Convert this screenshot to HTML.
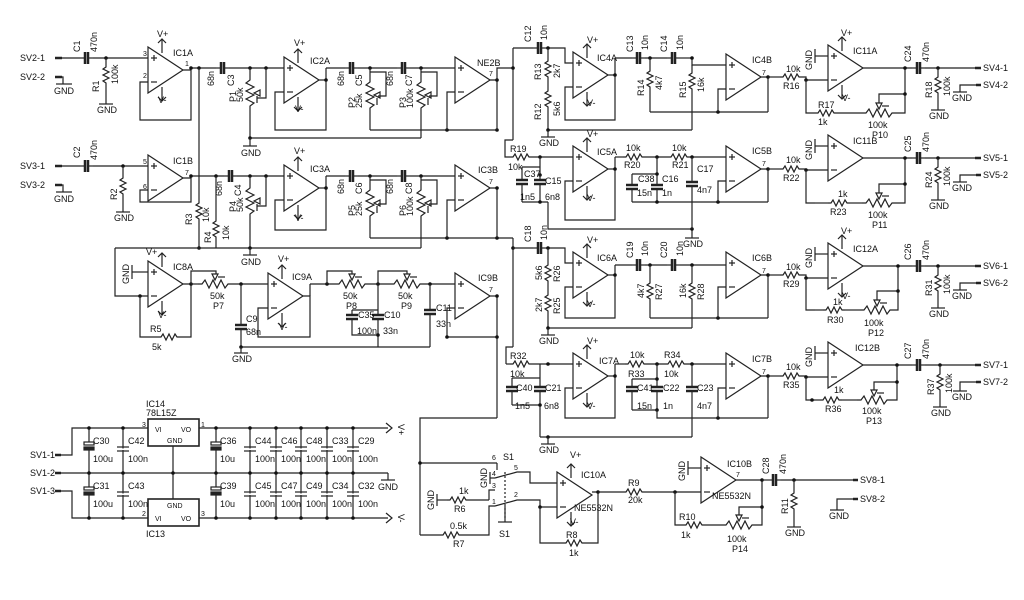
<!DOCTYPE html>
<html><head><meta charset="utf-8"><style>
html,body{margin:0;padding:0;background:#fff}
svg{display:block}
svg *{stroke:#222;stroke-width:1.2;fill:none}
svg text{fill:#111;stroke:none;font-family:"Liberation Sans",sans-serif;font-size:9px}
svg circle{fill:#111;stroke:none}
.t{stroke-width:2.5}
</style></head><body>
<svg width="1024" height="600" viewBox="0 0 1024 600" xmlns="http://www.w3.org/2000/svg">
<defs>
<g id="oa"><polygon points="0,-23 0,23 35,0"/><line x1="3" y1="-12" x2="9" y2="-12"/><line x1="6" y1="-15" x2="6" y2="-9"/><line x1="3" y1="12" x2="9" y2="12"/></g>
<g id="oap"><use href="#oa"/><line x1="14" y1="-17" x2="14" y2="-31"/><polyline points="10,-27 14,-31 18,-27"/><line x1="14" y1="17" x2="14" y2="31"/><polyline points="10,27 14,31 18,27"/></g>
<polyline id="rh" points="0,0 3,0 5,-3 8,3 11,-3 14,3 17,-3 19,0 22,0"/>
<polyline id="rv" points="0,0 0,3 -3,5 3,8 -3,11 3,14 -3,17 0,19 0,22"/>
<g id="ch"><line x1="0" y1="0" x2="5" y2="0"/><line x1="5" y1="-6" x2="5" y2="6" class="t"/><line x1="8" y1="-6" x2="8" y2="6" class="t"/><line x1="8" y1="0" x2="13" y2="0"/></g>
<g id="cv"><line x1="0" y1="0" x2="0" y2="5"/><line x1="-6" y1="5" x2="6" y2="5" class="t"/><line x1="-6" y1="9" x2="6" y2="9" class="t"/><line x1="0" y1="9" x2="0" y2="14"/></g>
<g id="ph"><polyline points="0,0 4,0 7,-4 11,4 15,-4 19,4 23,-4 27,4 30,0 34,0"/><polygon points="14,-10 20,-10 17,-4"/><line x1="20" y1="-7" x2="27" y2="-7"/></g>
<g id="pv"><polyline points="0,0 0,4 -4,7 4,11 -4,15 4,19 -4,23 4,27 0,30 0,34"/><polygon points="10,14 10,20 4,17"/><line x1="7" y1="20" x2="7" y2="27"/></g>
<line id="g" x1="-7" y1="0" x2="7" y2="0"/>
<g id="cp"><line x1="0" y1="0" x2="0" y2="5"/><rect x="-5" y="5" width="10" height="3"/><rect x="-5" y="10" width="10" height="3" style="fill:#222"/><line x1="0" y1="13" x2="0" y2="18"/></g>
</defs>

<!-- ============ ROW 1 LEFT ============ -->
<text x="20" y="61">SV2-1</text><line x1="55" y1="58" x2="62" y2="58" class="t"/>
<line x1="62" y1="58" x2="80" y2="58"/><use href="#ch" x="80" y="58"/><line x1="93" y1="58" x2="148" y2="58"/>
<text transform="translate(80,52) rotate(-90)">C1</text><text transform="translate(97,52) rotate(-90)">470n</text>
<circle cx="106" cy="58" r="1.8"/><line x1="106" y1="58" x2="106" y2="64"/><use href="#rv" x="106" y="64"/><line x1="106" y1="86" x2="106" y2="104"/><use href="#g" x="106" y="104"/><text x="97" y="113">GND</text>
<text transform="translate(99,92) rotate(-90)">R1</text><text transform="translate(118,84) rotate(-90)">100k</text>
<text x="20" y="80">SV2-2</text><line x1="55" y1="77" x2="62" y2="77" class="t"/><polyline points="62,77 63,77 63,84"/><line x1="56" y1="84" x2="72" y2="84"/><text x="54" y="94">GND</text>
<use href="#oap" x="148" y="70"/><text x="173" y="56">IC1A</text><text x="157" y="37">V+</text><text x="158" y="103">V-</text>
<text x="143" y="56" style="font-size:7px">3</text><text x="143" y="78" style="font-size:7px">2</text><text x="185" y="66" style="font-size:7px">1</text>
<polyline points="148,82 140,82 140,120 191,120 191,70 183,70"/>
<line x1="191" y1="68" x2="216" y2="68"/><use href="#ch" x="216" y="68"/><line x1="229" y1="68" x2="284" y2="68"/>
<circle cx="191" cy="68" r="1.8"/><circle cx="199" cy="68" r="1.8"/><circle cx="250" cy="68" r="1.8"/><circle cx="266" cy="68" r="1.8"/>
<text transform="translate(214,86) rotate(-90)">68n</text><text transform="translate(234,86) rotate(-90)">C3</text>
<line x1="250" y1="68" x2="250" y2="76"/><use href="#pv" x="250" y="76"/><polyline points="266,68 266,98 257,98"/><line x1="250" y1="110" x2="250" y2="138"/>
<text transform="translate(236,102) rotate(-90)">P1</text><text transform="translate(243,102) rotate(-90)">50k</text>
<line x1="250" y1="138" x2="421" y2="138"/><circle cx="250" cy="138" r="1.8"/><line x1="250" y1="138" x2="250" y2="146"/><use href="#g" x="250" y="146"/><text x="241" y="156">GND</text>
<use href="#oap" x="284" y="80"/><text x="310" y="64">IC2A</text><text x="294" y="46">V+</text><text x="295" y="112">V-</text>
<polyline points="284,92 275,92 275,130 326,130 326,68"/><line x1="319" y1="80" x2="326" y2="80"/><circle cx="326" cy="80" r="1.8"/>
<line x1="326" y1="68" x2="345" y2="68"/><use href="#ch" x="345" y="68"/><line x1="358" y1="68" x2="397" y2="68"/><use href="#ch" x="397" y="68"/><line x1="410" y1="68" x2="455" y2="68"/>
<circle cx="370" cy="68" r="1.8"/><circle cx="421" cy="68" r="1.8"/>
<text transform="translate(344,86) rotate(-90)">68n</text><text transform="translate(362,86) rotate(-90)">C5</text>
<text transform="translate(393,86) rotate(-90)">68n</text><text transform="translate(412,86) rotate(-90)">C7</text>
<line x1="370" y1="68" x2="370" y2="78"/><use href="#pv" x="370" y="78"/><polyline points="370,72 386,72 386,96 378,96"/><line x1="370" y1="112" x2="370" y2="130"/>
<text transform="translate(355,108) rotate(-90)">P2</text><text transform="translate(362,108) rotate(-90)">25k</text>
<line x1="421" y1="68" x2="421" y2="78"/><use href="#pv" x="421" y="78"/><polyline points="421,72 437,72 437,96 429,96"/><line x1="421" y1="112" x2="421" y2="138"/>
<text transform="translate(406,108) rotate(-90)">P3</text><text transform="translate(413,108) rotate(-90)">100k</text>
<line x1="370" y1="130" x2="497" y2="130"/><circle cx="447" cy="130" r="1.8"/><circle cx="497" cy="130" r="1.8"/>
<use href="#oa" x="455" y="80"/><text x="477" y="66">NE2B</text><text x="489" y="76" style="font-size:7px">7</text>
<polyline points="455,92 447,92 447,130"/><polyline points="490,80 497,80 497,130"/><circle cx="497" cy="80" r="1.8"/>
<polyline points="497,80 497,68 513,68"/>
<line x1="513" y1="48" x2="513" y2="140"/><circle cx="513" cy="68" r="1.8"/><polyline points="513,140 505,140 505,157 510,157"/>

<!-- ============ ROW 2 LEFT ============ -->
<text x="20" y="169">SV3-1</text><line x1="55" y1="166" x2="62" y2="166" class="t"/>
<line x1="62" y1="166" x2="80" y2="166"/><use href="#ch" x="80" y="166"/><line x1="93" y1="166" x2="148" y2="166"/>
<text transform="translate(80,158) rotate(-90)">C2</text><text transform="translate(97,160) rotate(-90)">470n</text>
<circle cx="123" cy="166" r="1.8"/><line x1="123" y1="166" x2="123" y2="175"/><use href="#rv" x="123" y="175"/><line x1="123" y1="197" x2="123" y2="212"/><use href="#g" x="123" y="212"/><text x="114" y="221">GND</text>
<text transform="translate(117,200) rotate(-90)">R2</text>
<text x="20" y="188">SV3-2</text><line x1="55" y1="185" x2="62" y2="185" class="t"/><polyline points="62,185 63,185 63,192"/><line x1="56" y1="192" x2="72" y2="192"/><text x="54" y="202">GND</text>
<use href="#oa" x="148" y="178"/><text x="173" y="164">IC1B</text><text x="143" y="164" style="font-size:7px">5</text><text x="143" y="189" style="font-size:7px">6</text><text x="185" y="175" style="font-size:7px">7</text>
<polyline points="148,190 140,190 140,202 191,202 191,178 183,178"/>
<line x1="191" y1="176" x2="224" y2="176"/><use href="#ch" x="224" y="176"/><line x1="237" y1="176" x2="284" y2="176"/>
<circle cx="191" cy="176" r="1.8"/><circle cx="216" cy="176" r="1.8"/><circle cx="250" cy="176" r="1.8"/><circle cx="266" cy="176" r="1.8"/>
<text transform="translate(222,196) rotate(-90)">68n</text><text transform="translate(241,196) rotate(-90)">C4</text>
<line x1="199" y1="68" x2="199" y2="200"/><use href="#rv" x="199" y="200"/><line x1="199" y1="222" x2="199" y2="248"/><circle cx="199" cy="248" r="1.8"/>
<text transform="translate(192,225) rotate(-90)">R3</text><text transform="translate(209,222) rotate(-90)">10k</text>
<line x1="216" y1="176" x2="216" y2="218"/><use href="#rv" x="216" y="218"/><line x1="216" y1="240" x2="216" y2="248"/>
<text transform="translate(211,243) rotate(-90)">R4</text><text transform="translate(229,240) rotate(-90)">10k</text>
<line x1="250" y1="176" x2="250" y2="184"/><use href="#pv" x="250" y="184"/><polyline points="266,176 266,206 257,206"/><line x1="250" y1="218" x2="250" y2="248"/>
<text transform="translate(236,212) rotate(-90)">P4</text><text transform="translate(243,212) rotate(-90)">50k</text>
<line x1="115" y1="248" x2="421" y2="248"/><circle cx="250" cy="248" r="1.8"/><line x1="250" y1="248" x2="250" y2="255"/><use href="#g" x="250" y="255"/><text x="241" y="265">GND</text>
<use href="#oap" x="284" y="188"/><text x="310" y="172">IC3A</text><text x="294" y="154">V+</text><text x="295" y="221">V-</text>
<polyline points="284,200 275,200 275,230 326,230 326,176"/><line x1="319" y1="188" x2="326" y2="188"/><circle cx="326" cy="188" r="1.8"/>
<line x1="326" y1="176" x2="345" y2="176"/><use href="#ch" x="345" y="176"/><line x1="358" y1="176" x2="397" y2="176"/><use href="#ch" x="397" y="176"/><line x1="410" y1="176" x2="455" y2="176"/>
<circle cx="370" cy="176" r="1.8"/><circle cx="421" cy="176" r="1.8"/>
<text transform="translate(344,194) rotate(-90)">68n</text><text transform="translate(362,194) rotate(-90)">C6</text>
<text transform="translate(393,194) rotate(-90)">68n</text><text transform="translate(412,194) rotate(-90)">C8</text>
<line x1="370" y1="176" x2="370" y2="186"/><use href="#pv" x="370" y="186"/><polyline points="370,180 386,180 386,204 378,204"/><line x1="370" y1="220" x2="370" y2="238"/>
<text transform="translate(355,216) rotate(-90)">P5</text><text transform="translate(362,216) rotate(-90)">25k</text>
<line x1="421" y1="176" x2="421" y2="186"/><use href="#pv" x="421" y="186"/><polyline points="421,180 437,180 437,204 429,204"/><line x1="421" y1="220" x2="421" y2="248"/>
<text transform="translate(406,216) rotate(-90)">P6</text><text transform="translate(413,216) rotate(-90)">100k</text>
<line x1="370" y1="238" x2="513" y2="238"/><circle cx="447" cy="238" r="1.8"/><circle cx="497" cy="238" r="1.8"/>
<use href="#oa" x="455" y="188"/><text x="478" y="173">IC3B</text><text x="489" y="184" style="font-size:7px">7</text>
<polyline points="455,200 447,200 447,238"/><polyline points="490,188 497,188 497,238"/><circle cx="497" cy="188" r="1.8"/>
<line x1="513" y1="238" x2="513" y2="347"/><circle cx="513" cy="248" r="1.8"/><polyline points="513,347 506,347 506,364"/>

<!-- ============ ROW 3 LEFT ============ -->
<polyline points="115,248 115,296 148,296"/><circle cx="140" cy="296" r="1.8"/>
<use href="#oap" x="148" y="284"/><text x="173" y="270">IC8A</text><text x="146" y="255">V+</text><text x="158" y="318">V-</text>
<line x1="148" y1="272" x2="132" y2="272"/><line x1="132" y1="265" x2="132" y2="279"/><text transform="translate(129,284) rotate(-90)">GND</text>
<polyline points="140,296 140,337 158,337"/><use href="#rh" x="158" y="337"/><polyline points="180,337 191,337 191,284 183,284"/>
<text x="150" y="332">R5</text><text x="152" y="350">5k</text>
<circle cx="191" cy="284" r="1.8"/><use href="#ph" x="198" y="284"/><line x1="191" y1="284" x2="198" y2="284"/><polyline points="191,284 191,271 216,271 216,274"/>
<line x1="232" y1="284" x2="268" y2="284"/><circle cx="241" cy="284" r="1.8"/>
<text x="210" y="299">50k</text><text x="213" y="309">P7</text>
<line x1="241" y1="284" x2="241" y2="320"/><use href="#cv" x="241" y="320"/><line x1="241" y1="334" x2="241" y2="347"/>
<text x="246" y="322">C9</text><text x="246" y="335">68n</text>
<line x1="241" y1="347" x2="430" y2="347"/><circle cx="241" cy="347" r="1.8"/><line x1="241" y1="347" x2="241" y2="353"/><use href="#g" x="241" y="353"/><text x="232" y="362">GND</text>
<use href="#oap" x="268" y="296"/><text x="292" y="280">IC9A</text><text x="278" y="262">V+</text><text x="279" y="330">V-</text>
<polyline points="268,308 258,308 258,337 310,337 310,296 302,296"/>
<line x1="310" y1="284" x2="335" y2="284"/><line x1="310" y1="284" x2="310" y2="296"/><circle cx="327" cy="284" r="1.8"/>
<use href="#ph" x="335" y="284"/><polyline points="327,284 327,271 352,271 352,274"/><line x1="369" y1="284" x2="390" y2="284"/><circle cx="378" cy="284" r="1.8"/>
<use href="#ph" x="390" y="284"/><polyline points="378,284 378,271 407,271 407,274"/><line x1="424" y1="284" x2="455" y2="284"/><circle cx="430" cy="284" r="1.8"/>
<text x="343" y="299">50k</text><text x="346" y="309">P8</text><text x="398" y="299">50k</text><text x="401" y="309">P9</text>
<line x1="378" y1="284" x2="378" y2="310"/><polyline points="352,310 378,310"/><use href="#cv" x="352" y="310"/><use href="#cv" x="378" y="310"/><polyline points="352,324 352,335 378,335"/><line x1="378" y1="324" x2="378" y2="347"/><circle cx="378" cy="335" r="1.8"/>
<text x="358" y="318">C35</text><text x="384" y="318">C10</text><text x="357" y="334">100n</text><text x="383" y="334">33n</text>
<line x1="430" y1="284" x2="430" y2="305"/><use href="#cv" x="430" y="305"/><line x1="430" y1="319" x2="430" y2="347"/>
<text x="436" y="311">C11</text><text x="436" y="327">33n</text>
<use href="#oa" x="455" y="296"/><text x="478" y="281">IC9B</text><text x="489" y="292" style="font-size:7px">7</text>
<polyline points="455,308 447,308 447,337 497,337"/><polyline points="490,296 497,296"/><line x1="497" y1="296" x2="497" y2="418"/><circle cx="497" cy="296" r="1.8"/><circle cx="447" cy="337" r="1.8"/><circle cx="497" cy="337" r="1.8"/>
<polyline points="497,418 420,418 420,535"/>

<!-- ============ RIGHT ROW A ============ -->
<use href="#ch" x="533" y="48"/><polyline points="513,48 533,48"/><polyline points="546,48 565,48 565,63 573,63"/><circle cx="548" cy="48" r="1.8"/>
<text transform="translate(531,42) rotate(-90)">C12</text><text transform="translate(547,40) rotate(-90)">10n</text>
<line x1="548" y1="48" x2="548" y2="58"/><use href="#rv" x="548" y="58"/><line x1="548" y1="80" x2="548" y2="88"/><use href="#rv" x="548" y="88"/><line x1="548" y1="110" x2="548" y2="130"/>
<text transform="translate(541,80) rotate(-90)">R13</text><text transform="translate(560,78) rotate(-90)">2k7</text>
<text transform="translate(541,120) rotate(-90)">R12</text><text transform="translate(560,116) rotate(-90)">5k6</text>
<line x1="548" y1="130" x2="692" y2="130"/><circle cx="548" cy="130" r="1.8"/><line x1="548" y1="130" x2="548" y2="137"/><use href="#g" x="548" y="137"/><text x="539" y="146">GND</text>
<use href="#oap" x="573" y="75"/><text x="597" y="61">IC4A</text><text x="587" y="43">V+</text><text x="587" y="106">V-</text>
<polyline points="573,87 565,87 565,120 615,120 615,58"/><line x1="607" y1="75" x2="615" y2="75"/><circle cx="615" cy="75" r="1.8"/>
<line x1="615" y1="58" x2="632" y2="58"/><use href="#ch" x="632" y="58"/><line x1="645" y1="58" x2="667" y2="58"/><use href="#ch" x="667" y="58"/><line x1="680" y1="58" x2="692" y2="58"/><polyline points="692,58 692,65 726,65"/>
<circle cx="650" cy="58" r="1.8"/><circle cx="692" cy="58" r="1.8"/>
<text transform="translate(633,52) rotate(-90)">C13</text><text transform="translate(648,50) rotate(-90)">10n</text><text transform="translate(667,52) rotate(-90)">C14</text><text transform="translate(683,50) rotate(-90)">10n</text>
<line x1="650" y1="58" x2="650" y2="68"/><use href="#rv" x="650" y="68"/><line x1="650" y1="90" x2="650" y2="112"/>
<text transform="translate(644,96) rotate(-90)">R14</text><text transform="translate(662,90) rotate(-90)">4k7</text>
<line x1="692" y1="65" x2="692" y2="70"/><use href="#rv" x="692" y="70"/><line x1="692" y1="92" x2="692" y2="130"/>
<text transform="translate(686,98) rotate(-90)">R15</text><text transform="translate(704,92) rotate(-90)">16k</text>
<line x1="650" y1="112" x2="768" y2="112"/><circle cx="718" cy="112" r="1.8"/>
<use href="#oa" x="726" y="77"/><text x="752" y="63">IC4B</text><text x="762" y="75" style="font-size:7px">7</text>
<polyline points="726,89 718,89 718,112"/><polyline points="761,77 768,77 768,112"/><circle cx="768" cy="77" r="1.8"/>
<!-- ============ RIGHT ROW B ============ -->
<use href="#rh" x="510" y="157"/><line x1="532" y1="157" x2="573" y2="157"/><circle cx="540" cy="157" r="1.8"/>
<text x="510" y="152">R19</text><text x="508" y="170">10k</text>
<line x1="522" y1="167" x2="540" y2="167"/><line x1="540" y1="157" x2="540" y2="175"/><circle cx="540" cy="175" r="1.8"/>
<line x1="522" y1="167" x2="522" y2="175"/><use href="#cv" x="522" y="175"/><use href="#cv" x="540" y="175"/><line x1="522" y1="189" x2="522" y2="202"/><line x1="540" y1="189" x2="540" y2="202"/>
<line x1="522" y1="202" x2="548" y2="202"/><circle cx="540" cy="202" r="1.8"/><polyline points="548,202 548,229 692,229"/>
<text x="524" y="177">C37</text><text x="545" y="184">C15</text><text x="520" y="200">1n5</text><text x="545" y="200">6n8</text>
<line x1="692" y1="229" x2="692" y2="238"/><circle cx="692" cy="229" r="1.8"/><use href="#g" x="692" y="238"/><text x="683" y="247">GND</text>
<use href="#oap" x="573" y="169"/><text x="597" y="155">IC5A</text><text x="587" y="137">V+</text><text x="587" y="201">V-</text>
<polyline points="573,181 565,181 565,220 615,220 615,157"/><line x1="607" y1="169" x2="615" y2="169"/><circle cx="615" cy="169" r="1.8"/>
<line x1="615" y1="157" x2="623" y2="157"/><use href="#rh" x="623" y="157"/><line x1="645" y1="157" x2="668" y2="157"/><use href="#rh" x="668" y="157"/><line x1="690" y1="157" x2="726" y2="157"/>
<circle cx="657" cy="157" r="1.8"/><circle cx="692" cy="157" r="1.8"/>
<text x="626" y="151">10k</text><text x="624" y="168">R20</text><text x="672" y="151">10k</text><text x="672" y="168">R21</text>
<polyline points="632,174 657,174"/><line x1="657" y1="157" x2="657" y2="180"/><circle cx="657" cy="174" r="1.8"/>
<line x1="632" y1="174" x2="632" y2="180"/><use href="#cv" x="632" y="180"/><use href="#cv" x="657" y="180"/><line x1="632" y1="194" x2="632" y2="202"/><line x1="657" y1="194" x2="657" y2="202"/>
<text x="638" y="182">C38</text><text x="662" y="182">C16</text><text x="637" y="196">15n</text><text x="662" y="196">1n</text>
<line x1="692" y1="157" x2="692" y2="177"/><use href="#cv" x="692" y="177"/><line x1="692" y1="191" x2="692" y2="229"/><text x="697" y="172">C17</text><text x="697" y="193">4n7</text>
<line x1="632" y1="202" x2="768" y2="202"/><circle cx="657" cy="202" r="1.8"/><circle cx="718" cy="202" r="1.8"/>
<use href="#oa" x="726" y="169"/><text x="752" y="154">IC5B</text><text x="762" y="166" style="font-size:7px">7</text>
<polyline points="726,181 718,181 718,202"/><polyline points="761,169 768,169 768,202"/><circle cx="768" cy="169" r="1.8"/>
<!-- ============ RIGHT ROW C ============ -->
<line x1="513" y1="248" x2="533" y2="248"/><use href="#ch" x="533" y="248"/><polyline points="546,248 565,248 565,263 573,263"/><circle cx="548" cy="248" r="1.8"/>
<text transform="translate(531,242) rotate(-90)">C18</text><text transform="translate(547,240) rotate(-90)">10n</text>
<line x1="548" y1="248" x2="548" y2="262"/><use href="#rv" x="548" y="262"/><line x1="548" y1="284" x2="548" y2="292"/><use href="#rv" x="548" y="292"/><line x1="548" y1="314" x2="548" y2="328"/>
<text transform="translate(542,280) rotate(-90)">5k6</text><text transform="translate(560,282) rotate(-90)">R26</text>
<text transform="translate(542,312) rotate(-90)">2k7</text><text transform="translate(560,314) rotate(-90)">R25</text>
<line x1="548" y1="328" x2="692" y2="328"/><circle cx="548" cy="328" r="1.8"/><line x1="548" y1="328" x2="548" y2="335"/><use href="#g" x="548" y="335"/><text x="539" y="344">GND</text>
<use href="#oap" x="573" y="275"/><text x="597" y="261">IC6A</text><text x="587" y="243">V+</text><text x="587" y="307">V-</text>
<polyline points="573,287 565,287 565,318 615,318 615,265"/><line x1="607" y1="275" x2="615" y2="275"/><circle cx="615" cy="275" r="1.8"/>
<line x1="615" y1="265" x2="632" y2="265"/><use href="#ch" x="632" y="265"/><line x1="645" y1="265" x2="667" y2="265"/><use href="#ch" x="667" y="265"/><line x1="680" y1="265" x2="726" y2="265"/>
<circle cx="650" cy="265" r="1.8"/><circle cx="692" cy="265" r="1.8"/>
<text transform="translate(633,258) rotate(-90)">C19</text><text transform="translate(648,256) rotate(-90)">10n</text><text transform="translate(667,258) rotate(-90)">C20</text><text transform="translate(683,256) rotate(-90)">10n</text>
<line x1="650" y1="265" x2="650" y2="280"/><use href="#rv" x="650" y="280"/><line x1="650" y1="302" x2="650" y2="318"/>
<text transform="translate(644,298) rotate(-90)">4k7</text><text transform="translate(662,300) rotate(-90)">R27</text>
<line x1="692" y1="265" x2="692" y2="280"/><use href="#rv" x="692" y="280"/><line x1="692" y1="302" x2="692" y2="328"/>
<text transform="translate(686,298) rotate(-90)">16k</text><text transform="translate(704,300) rotate(-90)">R28</text>
<line x1="650" y1="318" x2="768" y2="318"/><circle cx="718" cy="318" r="1.8"/>
<use href="#oa" x="726" y="275"/><text x="752" y="261">IC6B</text><text x="762" y="273" style="font-size:7px">7</text>
<polyline points="726,287 718,287 718,318"/><polyline points="761,275 768,275 768,318"/><circle cx="768" cy="275" r="1.8"/>
<!-- ============ RIGHT ROW D ============ -->
<use href="#rh" x="510" y="364"/><line x1="532" y1="364" x2="573" y2="364"/><line x1="506" y1="364" x2="510" y2="364"/><circle cx="548" cy="364" r="1.8"/>
<text x="510" y="359">R32</text><text x="510" y="377">10k</text>
<line x1="512" y1="378" x2="540" y2="378"/><line x1="540" y1="364" x2="540" y2="382"/>
<line x1="512" y1="378" x2="512" y2="382"/><use href="#cv" x="512" y="382"/><use href="#cv" x="540" y="382"/><line x1="512" y1="396" x2="512" y2="405"/><line x1="540" y1="396" x2="540" y2="437"/>
<line x1="512" y1="405" x2="540" y2="405"/><circle cx="540" cy="405" r="1.8"/>
<text x="516" y="391">C40</text><text x="545" y="391">C21</text><text x="515" y="409">1n5</text><text x="544" y="409">6n8</text>
<line x1="540" y1="437" x2="692" y2="437"/><circle cx="548" cy="437" r="1.8"/><line x1="548" y1="437" x2="548" y2="444"/><use href="#g" x="548" y="444"/><text x="539" y="453">GND</text>
<use href="#oap" x="573" y="376"/><text x="599" y="364">IC7A</text><text x="587" y="344">V+</text><text x="587" y="409">V-</text>
<polyline points="573,388 565,388 565,418 615,418 615,364"/><line x1="607" y1="376" x2="615" y2="376"/><circle cx="615" cy="376" r="1.8"/>
<line x1="615" y1="364" x2="625" y2="364"/><use href="#rh" x="625" y="364"/><line x1="647" y1="364" x2="665" y2="364"/><use href="#rh" x="665" y="364"/><line x1="687" y1="364" x2="726" y2="364"/>
<circle cx="657" cy="364" r="1.8"/><circle cx="692" cy="364" r="1.8"/>
<text x="630" y="358">10k</text><text x="628" y="377">R33</text><text x="664" y="358">R34</text><text x="664" y="377">10k</text>
<polyline points="632,379 657,379"/><line x1="657" y1="364" x2="657" y2="382"/><circle cx="657" cy="379" r="1.8"/>
<line x1="632" y1="379" x2="632" y2="382"/><use href="#cv" x="632" y="382"/><use href="#cv" x="657" y="382"/><line x1="632" y1="396" x2="632" y2="410"/><line x1="657" y1="396" x2="657" y2="410"/>
<line x1="632" y1="410" x2="657" y2="410"/><circle cx="657" cy="410" r="1.8"/>
<text x="637" y="391">C41</text><text x="663" y="391">C22</text><text x="637" y="409">15n</text><text x="663" y="409">1n</text>
<line x1="692" y1="364" x2="692" y2="382"/><use href="#cv" x="692" y="382"/><line x1="692" y1="396" x2="692" y2="437"/><text x="697" y="391">C23</text><text x="697" y="409">4n7</text>
<polyline points="657,410 657,418 768,418"/><circle cx="718" cy="418" r="1.8"/>
<use href="#oa" x="726" y="376"/><text x="752" y="362">IC7B</text><text x="762" y="374" style="font-size:7px">7</text>
<polyline points="726,388 718,388 718,418"/><polyline points="761,376 768,376 768,418"/><circle cx="768" cy="376" r="1.8"/>

<!-- ============ OUTPUT STAGES ============ -->
<line x1="768" y1="77" x2="780" y2="77"/><use href="#rh" x="780" y="77"/><polyline points="802,77 806,77 806,80 828,80"/><circle cx="806" cy="80" r="1.8"/>
<text x="786" y="72">10k</text><text x="783" y="89">R16</text>
<use href="#oap" x="828" y="68"/><text x="853" y="54">IC11A</text><text x="841" y="36">V+</text><text x="842" y="101">V-</text>
<line x1="828" y1="56" x2="815" y2="56"/><line x1="815" y1="49" x2="815" y2="63"/><text transform="translate(812,70) rotate(-90)">GND</text>
<polyline points="806,80 806,113 815,113"/><use href="#rh" x="815" y="113"/><line x1="837" y1="113" x2="862" y2="113"/><use href="#ph" x="862" y="113"/><polyline points="896,113 905,113 905,68"/><polyline points="879,103 879,94 905,94"/><circle cx="905" cy="94" r="1.8"/>
<text x="818" y="108">R17</text><text x="818" y="125">1k</text><text x="868" y="128">100k</text><text x="872" y="138">P10</text>
<line x1="863" y1="68" x2="912" y2="68"/><circle cx="905" cy="68" r="1.8"/><use href="#ch" x="912" y="68"/><line x1="925" y1="68" x2="975" y2="68"/><line x1="975" y1="68" x2="981" y2="68" class="t"/><text x="983" y="71">SV4-1</text>
<text transform="translate(911,62) rotate(-90)">C24</text><text transform="translate(929,62) rotate(-90)">470n</text>
<circle cx="938" cy="68" r="1.8"/><line x1="938" y1="68" x2="938" y2="74"/><use href="#rv" x="938" y="74"/><line x1="938" y1="96" x2="938" y2="110"/><use href="#g" x="938" y="110"/><text x="929" y="119">GND</text>
<text transform="translate(932,98) rotate(-90)">R18</text><text transform="translate(950,96) rotate(-90)">100k</text>
<polyline points="960,92 960,85 976,85"/><line x1="976" y1="85" x2="981" y2="85" class="t"/><line x1="953" y1="92" x2="967" y2="92"/><text x="983" y="88">SV4-2</text><text x="952" y="101">GND</text>
<!-- IC11B -->
<line x1="768" y1="169" x2="780" y2="169"/><use href="#rh" x="780" y="169"/><polyline points="802,169 806,169 806,170 828,170"/><circle cx="806" cy="170" r="1.8"/>
<text x="786" y="163">10k</text><text x="783" y="181">R22</text>
<use href="#oa" x="828" y="158"/><text x="853" y="144">IC11B</text>
<line x1="828" y1="146" x2="815" y2="146"/><line x1="815" y1="139" x2="815" y2="153"/><text transform="translate(812,160) rotate(-90)">GND</text>
<polyline points="806,170 806,203 815,203"/><use href="#rh" x="828" y="203"/><line x1="815" y1="203" x2="828" y2="203"/><line x1="850" y1="203" x2="862" y2="203"/><use href="#ph" x="862" y="203"/><polyline points="896,203 905,203 905,158"/><polyline points="879,193 879,184 905,184"/><circle cx="905" cy="184" r="1.8"/>
<text x="838" y="197">1k</text><text x="830" y="215">R23</text><text x="868" y="218">100k</text><text x="872" y="228">P11</text>
<line x1="863" y1="158" x2="912" y2="158"/><circle cx="905" cy="158" r="1.8"/><use href="#ch" x="912" y="158"/><line x1="925" y1="158" x2="975" y2="158"/><line x1="975" y1="158" x2="981" y2="158" class="t"/><text x="983" y="161">SV5-1</text>
<text transform="translate(911,152) rotate(-90)">C25</text><text transform="translate(929,152) rotate(-90)">470n</text>
<circle cx="938" cy="158" r="1.8"/><line x1="938" y1="158" x2="938" y2="164"/><use href="#rv" x="938" y="164"/><line x1="938" y1="186" x2="938" y2="200"/><use href="#g" x="938" y="200"/><text x="929" y="209">GND</text>
<text transform="translate(932,188) rotate(-90)">R24</text><text transform="translate(950,186) rotate(-90)">100k</text>
<polyline points="960,182 960,175 976,175"/><line x1="976" y1="175" x2="981" y2="175" class="t"/><line x1="953" y1="182" x2="967" y2="182"/><text x="983" y="178">SV5-2</text><text x="952" y="191">GND</text>
<!-- IC12A -->
<line x1="768" y1="275" x2="780" y2="275"/><use href="#rh" x="780" y="275"/><polyline points="802,275 806,275 806,278 828,278"/><circle cx="806" cy="278" r="1.8"/>
<text x="786" y="270">10k</text><text x="783" y="287">R29</text>
<use href="#oap" x="828" y="266"/><text x="853" y="252">IC12A</text><text x="841" y="234">V+</text><text x="842" y="299">V-</text>
<line x1="828" y1="254" x2="815" y2="254"/><line x1="815" y1="247" x2="815" y2="261"/><text transform="translate(812,268) rotate(-90)">GND</text>
<polyline points="806,278 806,310 815,310"/><use href="#rh" x="823" y="310"/><line x1="815" y1="310" x2="823" y2="310"/><line x1="845" y1="310" x2="860" y2="310"/><use href="#ph" x="860" y="310"/><polyline points="894,310 898,310 898,266"/><polyline points="877,300 877,291 898,291"/><circle cx="898" cy="291" r="1.8"/>
<text x="833" y="305">1k</text><text x="827" y="323">R30</text><text x="864" y="326">100k</text><text x="868" y="336">P12</text>
<line x1="863" y1="266" x2="912" y2="266"/><circle cx="898" cy="266" r="1.8"/><use href="#ch" x="912" y="266"/><line x1="925" y1="266" x2="975" y2="266"/><line x1="975" y1="266" x2="981" y2="266" class="t"/><text x="983" y="269">SV6-1</text>
<text transform="translate(911,260) rotate(-90)">C26</text><text transform="translate(929,260) rotate(-90)">470n</text>
<circle cx="938" cy="266" r="1.8"/><line x1="938" y1="266" x2="938" y2="272"/><use href="#rv" x="938" y="272"/><line x1="938" y1="294" x2="938" y2="308"/><use href="#g" x="938" y="308"/><text x="929" y="317">GND</text>
<text transform="translate(932,296) rotate(-90)">R31</text><text transform="translate(950,294) rotate(-90)">100k</text>
<polyline points="960,290 960,283 976,283"/><line x1="976" y1="283" x2="981" y2="283" class="t"/><line x1="953" y1="290" x2="967" y2="290"/><text x="983" y="286">SV6-2</text><text x="952" y="299">GND</text>
<!-- IC12B -->
<line x1="768" y1="376" x2="780" y2="376"/><use href="#rh" x="780" y="376"/><polyline points="802,376 806,376 806,377 828,377"/><circle cx="806" cy="377" r="1.8"/>
<text x="786" y="370">10k</text><text x="783" y="388">R35</text>
<use href="#oa" x="828" y="365"/><text x="855" y="351">IC12B</text>
<line x1="828" y1="353" x2="815" y2="353"/><line x1="815" y1="346" x2="815" y2="360"/><text transform="translate(812,367) rotate(-90)">GND</text>
<polyline points="806,377 806,400 815,400"/><circle cx="812" cy="400" r="1.8"/><use href="#rh" x="820" y="400"/><line x1="815" y1="400" x2="820" y2="400"/><line x1="842" y1="400" x2="857" y2="400"/><use href="#ph" x="857" y="400"/><polyline points="891,400 897,400 897,365"/><polyline points="874,390 874,382 897,382"/><circle cx="897" cy="382" r="1.8"/>
<text x="834" y="393">1k</text><text x="825" y="412">R36</text><text x="862" y="414">100k</text><text x="866" y="424">P13</text>
<line x1="863" y1="365" x2="912" y2="365"/><circle cx="897" cy="365" r="1.8"/><use href="#ch" x="912" y="365"/><line x1="925" y1="365" x2="975" y2="365"/><line x1="975" y1="365" x2="981" y2="365" class="t"/><text x="983" y="368">SV7-1</text>
<text transform="translate(911,359) rotate(-90)">C27</text><text transform="translate(929,359) rotate(-90)">470n</text>
<circle cx="940" cy="365" r="1.8"/><line x1="940" y1="365" x2="940" y2="371"/><use href="#rv" x="940" y="371"/><line x1="940" y1="393" x2="940" y2="407"/><use href="#g" x="940" y="407"/><text x="931" y="416">GND</text>
<text transform="translate(934,395) rotate(-90)">R37</text><text transform="translate(952,393) rotate(-90)">100k</text>
<polyline points="960,391 960,382 976,382"/><line x1="976" y1="382" x2="981" y2="382" class="t"/><line x1="953" y1="391" x2="967" y2="391"/><text x="983" y="385">SV7-2</text><text x="952" y="400">GND</text>

<!-- ============ S1 / IC10 ============ -->
<line x1="420" y1="463" x2="497" y2="463"/><circle cx="420" cy="463" r="1.8"/><line x1="497" y1="463" x2="497" y2="470"/><text x="492" y="460" style="font-size:7px">6</text><text x="503" y="460">S1</text>
<polyline points="495,478 517,472 530,472 530,483 557,483"/><text x="514" y="470" style="font-size:7px">5</text>
<line x1="490" y1="478" x2="495" y2="478"/><line x1="490" y1="472" x2="490" y2="484"/><text transform="translate(487,488) rotate(-90)">GND</text><text x="492" y="476" style="font-size:7px">4</text>
<polyline points="489,500 489,490 495,490"/><text x="492" y="488" style="font-size:7px">3</text>
<line x1="437" y1="494" x2="437" y2="506"/><text transform="translate(434,510) rotate(-90)">GND</text><line x1="437" y1="500" x2="447" y2="500"/><use href="#rh" x="447" y="500"/><line x1="469" y1="500" x2="489" y2="500"/><text x="459" y="494">1k</text><text x="454" y="512">R6</text>
<polyline points="495,506 517,500 540,500 540,507 557,507"/><circle cx="540" cy="507" r="1.8"/><text x="514" y="497" style="font-size:7px">2</text>
<polyline points="420,535 440,535"/><use href="#rh" x="440" y="535"/><polyline points="462,535 489,535 489,506 495,506"/><text x="450" y="529">0.5k</text><text x="453" y="547">R7</text><text x="492" y="504" style="font-size:7px">1</text>
<line x1="505" y1="472" x2="505" y2="518" style="stroke-dasharray:2,2"/><line x1="505" y1="506" x2="505" y2="522"/><line x1="498" y1="522" x2="512" y2="522"/><text x="499" y="537">S1</text>
<use href="#oap" x="557" y="495"/><text x="581" y="478">IC10A</text><text x="570" y="458">V+</text><text x="570" y="525">V-</text><text x="574" y="511">NE5532N</text>
<polyline points="540,507 540,543 563,543"/><use href="#rh" x="563" y="543"/><polyline points="585,543 598,543 598,492 592,492"/><text x="566" y="538">R8</text><text x="569" y="556">1k</text>
<circle cx="598" cy="492" r="1.8"/><line x1="598" y1="492" x2="623" y2="492"/><use href="#rh" x="623" y="492"/><line x1="645" y1="492" x2="701" y2="492"/><circle cx="675" cy="492" r="1.8"/>
<text x="628" y="486">R9</text><text x="628" y="503">20k</text>
<use href="#oa" x="701" y="480"/><text x="727" y="467">IC10B</text><text x="712" y="499">NE5532N</text><text x="736" y="477" style="font-size:7px">7</text>
<line x1="701" y1="468" x2="688" y2="468"/><line x1="688" y1="461" x2="688" y2="475"/><text transform="translate(685,481) rotate(-90)">GND</text>
<polyline points="675,492 675,525 683,525"/><use href="#rh" x="683" y="525"/><line x1="705" y1="525" x2="722" y2="525"/><use href="#ph" x="722" y="525"/><polyline points="756,525 762,525 762,480 736,480"/><polyline points="739,515 739,507 762,507"/><circle cx="762" cy="507" r="1.8"/>
<text x="679" y="520">R10</text><text x="681" y="538">1k</text><text x="727" y="542">100k</text><text x="732" y="552">P14</text>
<circle cx="762" cy="480" r="1.8"/><line x1="762" y1="480" x2="768" y2="480"/><use href="#ch" x="768" y="480"/><line x1="781" y1="480" x2="853" y2="480"/><line x1="853" y1="480" x2="858" y2="480" class="t"/><text x="860" y="483">SV8-1</text>
<text transform="translate(769,474) rotate(-90)">C28</text><text transform="translate(786,474) rotate(-90)">470n</text>
<circle cx="794" cy="480" r="1.8"/><line x1="794" y1="480" x2="794" y2="490"/><use href="#rv" x="794" y="490"/><line x1="794" y1="512" x2="794" y2="527"/><use href="#g" x="794" y="527"/><text x="785" y="536">GND</text>
<text transform="translate(788,514) rotate(-90)">R11</text>
<polyline points="837,510 837,499 853,499"/><line x1="853" y1="499" x2="858" y2="499" class="t"/><line x1="830" y1="510" x2="844" y2="510"/><text x="860" y="502">SV8-2</text><text x="829" y="519">GND</text>

<!-- ============ POWER ============ -->
<text x="30" y="458">SV1-1</text><line x1="55" y1="455" x2="61" y2="455" class="t"/><polyline points="61,455 72,455 72,428 148,428"/>
<text x="30" y="476">SV1-2</text><line x1="55" y1="473" x2="61" y2="473" class="t"/><line x1="61" y1="473" x2="388" y2="473"/><polyline points="388,473 388,480"/><line x1="381" y1="480" x2="395" y2="480"/><text x="378" y="490">GND</text>
<text x="30" y="494">SV1-3</text><line x1="55" y1="491" x2="61" y2="491" class="t"/><polyline points="61,491 72,491 72,518 148,518"/>
<rect x="148" y="419" width="51" height="27" style="stroke-width:1.6"/><text x="155" y="432" style="font-size:7px">VI</text><text x="181" y="432" style="font-size:7px">VO</text><text x="167" y="443" style="font-size:7px">GND</text>
<text x="146" y="407">IC14</text><text x="146" y="416">78L15Z</text><text x="142" y="427" style="font-size:7px">3</text><text x="201" y="427" style="font-size:7px">1</text>
<rect x="148" y="499" width="51" height="27" style="stroke-width:1.6"/><text x="167" y="508" style="font-size:7px">GND</text><text x="155" y="521" style="font-size:7px">VI</text><text x="181" y="521" style="font-size:7px">VO</text>
<text x="146" y="537">IC13</text><text x="142" y="516" style="font-size:7px">2</text><text x="201" y="516" style="font-size:7px">3</text>
<line x1="173" y1="446" x2="173" y2="499"/><circle cx="173" cy="473" r="1.8"/>
<line x1="199" y1="428" x2="388" y2="428"/><polyline points="386,423 392,428 386,433"/><text transform="translate(398,424) rotate(90)">V+</text>
<line x1="199" y1="518" x2="388" y2="518"/><polyline points="386,513 392,518 386,523"/><text transform="translate(398,514) rotate(90)">V-</text>
<use href="#cp" x="89" y="437"/><line x1="89" y1="428" x2="89" y2="437"/><line x1="89" y1="455" x2="89" y2="473"/>
<use href="#cp" x="89" y="482"/><line x1="89" y1="473" x2="89" y2="482"/><line x1="89" y1="500" x2="89" y2="518"/>
<use href="#cp" x="216" y="437"/><line x1="216" y1="428" x2="216" y2="437"/><line x1="216" y1="455" x2="216" y2="473"/>
<use href="#cp" x="216" y="482"/><line x1="216" y1="473" x2="216" y2="482"/><line x1="216" y1="500" x2="216" y2="518"/>
<g>
<line x1="123" y1="428" x2="123" y2="518"/><line x1="250" y1="428" x2="250" y2="518"/><line x1="276" y1="428" x2="276" y2="518"/><line x1="301" y1="428" x2="301" y2="518"/><line x1="327" y1="428" x2="327" y2="518"/><line x1="353" y1="428" x2="353" y2="518"/>
</g>
<g style="stroke-width:2.5">
<line x1="117" y1="447" x2="129" y2="447"/><line x1="117" y1="451" x2="129" y2="451"/><line x1="117" y1="492" x2="129" y2="492"/><line x1="117" y1="496" x2="129" y2="496"/>
<line x1="244" y1="447" x2="256" y2="447"/><line x1="244" y1="451" x2="256" y2="451"/><line x1="244" y1="492" x2="256" y2="492"/><line x1="244" y1="496" x2="256" y2="496"/>
<line x1="270" y1="447" x2="282" y2="447"/><line x1="270" y1="451" x2="282" y2="451"/><line x1="270" y1="492" x2="282" y2="492"/><line x1="270" y1="496" x2="282" y2="496"/>
<line x1="295" y1="447" x2="307" y2="447"/><line x1="295" y1="451" x2="307" y2="451"/><line x1="295" y1="492" x2="307" y2="492"/><line x1="295" y1="496" x2="307" y2="496"/>
<line x1="321" y1="447" x2="333" y2="447"/><line x1="321" y1="451" x2="333" y2="451"/><line x1="321" y1="492" x2="333" y2="492"/><line x1="321" y1="496" x2="333" y2="496"/>
<line x1="347" y1="447" x2="359" y2="447"/><line x1="347" y1="451" x2="359" y2="451"/><line x1="347" y1="492" x2="359" y2="492"/><line x1="347" y1="496" x2="359" y2="496"/>
</g>
<rect x="116" y="448.5" width="14" height="1.5" style="fill:#fff;stroke:none"/><rect x="116" y="493.5" width="14" height="1.5" style="fill:#fff;stroke:none"/>
<rect x="243" y="448.5" width="120" height="1.5" style="fill:#fff;stroke:none"/><rect x="243" y="493.5" width="120" height="1.5" style="fill:#fff;stroke:none"/>
<g>
<circle cx="89" cy="428" r="1.8"/><circle cx="123" cy="428" r="1.8"/><circle cx="216" cy="428" r="1.8"/><circle cx="250" cy="428" r="1.8"/><circle cx="276" cy="428" r="1.8"/><circle cx="301" cy="428" r="1.8"/><circle cx="327" cy="428" r="1.8"/><circle cx="353" cy="428" r="1.8"/>
<circle cx="89" cy="473" r="1.8"/><circle cx="123" cy="473" r="1.8"/><circle cx="216" cy="473" r="1.8"/><circle cx="250" cy="473" r="1.8"/><circle cx="276" cy="473" r="1.8"/><circle cx="301" cy="473" r="1.8"/><circle cx="327" cy="473" r="1.8"/><circle cx="353" cy="473" r="1.8"/>
<circle cx="89" cy="518" r="1.8"/><circle cx="123" cy="518" r="1.8"/><circle cx="216" cy="518" r="1.8"/><circle cx="250" cy="518" r="1.8"/><circle cx="276" cy="518" r="1.8"/><circle cx="301" cy="518" r="1.8"/><circle cx="327" cy="518" r="1.8"/><circle cx="353" cy="518" r="1.8"/>
</g>
<text x="93" y="444">C30</text><text x="93" y="462">100u</text><text x="128" y="444">C42</text><text x="128" y="462">100n</text>
<text x="93" y="489">C31</text><text x="93" y="507">100u</text><text x="128" y="489">C43</text><text x="128" y="507">100n</text>
<text x="220" y="444">C36</text><text x="220" y="462">10u</text><text x="220" y="489">C39</text><text x="220" y="507">10u</text>
<text x="255" y="444">C44</text><text x="281" y="444">C46</text><text x="306" y="444">C48</text><text x="332" y="444">C33</text><text x="358" y="444">C29</text>
<text x="255" y="462">100n</text><text x="281" y="462">100n</text><text x="306" y="462">100n</text><text x="332" y="462">100n</text><text x="358" y="462">100n</text>
<text x="255" y="489">C45</text><text x="281" y="489">C47</text><text x="306" y="489">C49</text><text x="332" y="489">C34</text><text x="358" y="489">C32</text>
<text x="255" y="507">100n</text><text x="281" y="507">100n</text><text x="306" y="507">100n</text><text x="332" y="507">100n</text><text x="358" y="507">100n</text>
</svg>
</body></html>
